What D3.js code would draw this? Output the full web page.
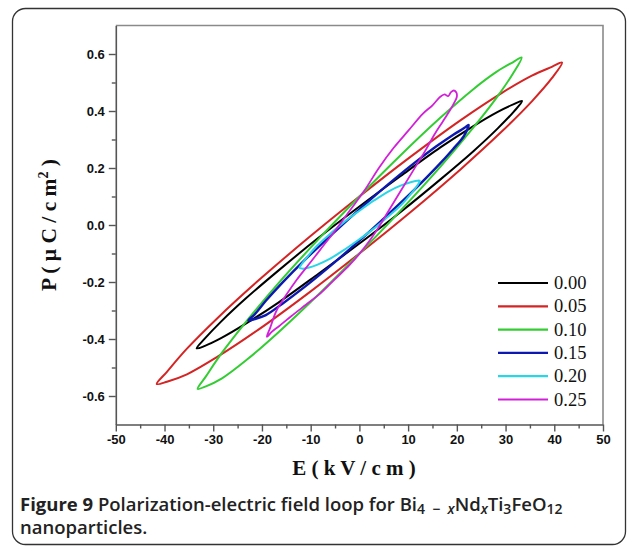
<!DOCTYPE html>
<html><head><meta charset="utf-8">
<script src="https://cdn.jsdelivr.net/npm/d3@7"></script>
<style>body{margin:0;background:#fff}svg{display:block}</style>
</head><body>
<svg id="chart" width="634" height="553"></svg>
<script>
// ---- data ----
const xTicks = [-50,-40,-30,-20,-10,0,10,20,30,40,50];
const yTicks = [-0.6,-0.4,-0.2,0.0,0.2,0.4,0.6];
const seriesLabels = ["0.00","0.05","0.10","0.15","0.20","0.25"];
const seriesColors = ["#000000","#d42424","#33cc33","#0c18b0","#2ad6e6","#d21fd8"];

// each loop: [E (kV/cm), P (uC/cm2)] going round the loop
const loop000 = [[-33.4,-0.433],[-31.7,-0.398],[-28.4,-0.339],[-23.4,-0.259],[-16.7,-0.161],[-8.4,-0.045],[0,0.065],[8.4,0.171],[16.7,0.273],[23.4,0.347],[28.4,0.397],[31.7,0.424],[33.4,0.435],
                 [31.7,0.398],[28.4,0.339],[23.4,0.259],[16.7,0.161],[8.4,0.045],[0,-0.065],[-8.4,-0.171],[-16.7,-0.273],[-23.4,-0.347],[-28.4,-0.397],[-31.7,-0.424]];
const loop005 = [[-41.6,-0.558],[-39.5,-0.515],[-35.4,-0.434],[-29.1,-0.326],[-20.8,-0.196],[-10.4,-0.044],[0,0.100],[10.4,0.238],[20.8,0.368],[29.1,0.462],[35.4,0.524],[39.5,0.555],[41.6,0.570],
                 [39.5,0.515],[35.4,0.434],[29.1,0.326],[20.8,0.196],[10.4,0.044],[0,-0.100],[-10.4,-0.238],[-20.8,-0.368],[-29.1,-0.462],[-35.4,-0.524],[-39.5,-0.550]];
const loop010 = [[-33.2,-0.575],[-31.5,-0.531],[-28.2,-0.448],[-23.2,-0.338],[-16.6,-0.204],[-8.3,-0.048],[0,0.100],[8.3,0.242],[16.6,0.376],[23.2,0.474],[28.2,0.538],[31.5,0.571],[33.3,0.588],
                 [31.5,0.531],[28.2,0.448],[23.2,0.338],[16.6,0.204],[8.3,0.048],[0,-0.100],[-8.3,-0.242],[-16.6,-0.376],[-23.2,-0.474],[-28.2,-0.538],[-31.5,-0.566]];
const loop015 = [[-22.8,-0.335],[-21.5,-0.314],[-19.2,-0.266],[-15.8,-0.202],[-11.3,-0.124],[-5.65,-0.033],[0,0.055],[5.65,0.139],[11.3,0.218],[15.8,0.276],[19.2,0.316],[21.5,0.340],[22.4,0.351],
                 [21.5,0.314],[19.2,0.266],[15.8,0.202],[11.3,0.124],[5.65,0.033],[0,-0.055],[-5.65,-0.139],[-11.3,-0.218],[-15.8,-0.276],[-19.2,-0.316],[-21.5,-0.330]];
const loop020 = [[-12.3,-0.150],[-11.8,-0.136],[-10.5,-0.108],[-8.7,-0.073],[-6.2,-0.034],[-3.1,0.011],[0,0.050],[3.1,0.087],[6.2,0.120],[8.7,0.140],[10.5,0.150],[11.8,0.155],[12.4,0.155],
                 [11.8,0.136],[10.5,0.108],[8.7,0.073],[6.2,0.034],[3.1,-0.011],[0,-0.050],[-3.1,-0.087],[-6.2,-0.120],[-8.7,-0.140],[-10.5,-0.150],[-11.8,-0.153]];
const loop025 = [[-19.0,-0.392],[-18.3,-0.360],[-17.0,-0.300],[-15.0,-0.245],[-12.9,-0.193],[-10.0,-0.130],[-8.1,-0.088],[-5.0,-0.020],[-2.0,0.050],[1.0,0.120],[4.0,0.200],[7.0,0.270],[10.0,0.330],[13.0,0.390],[15.0,0.420],[16.6,0.450],[17.5,0.458],[18.2,0.452],[18.8,0.466],[19.4,0.472],[19.9,0.465],
                 [20.0,0.450],[19.5,0.430],[18.5,0.400],[17.0,0.360],[15.5,0.320],[13.5,0.260],[11.0,0.190],[8.5,0.120],[6.0,0.050],[3.5,-0.020],[1.0,-0.080],[-2.0,-0.140],[-5.0,-0.190],[-8.0,-0.240],[-11.0,-0.280],[-14.0,-0.320],[-16.5,-0.355],[-18.0,-0.375],[-18.8,-0.390]];
const loops = [loop000, loop005, loop010, loop015, loop020, loop025];
const strokeWidths = [2, 2, 2, 2.4, 2, 1.8];

// ---- layout ----
const svg = d3.select("#chart");
const x = d3.scaleLinear().domain([-50,50]).range([115.8,603]);
const y = d3.scaleLinear().domain([-0.7,0.7]).range([424.5,25.5]);
const hyph = f => d => f(d).replace("\u2212","-");

// outer rounded frame
svg.append("rect").attr("x",12.5).attr("y",8.5).attr("width",613).attr("height",536)
  .attr("rx",13).attr("fill","none").attr("stroke","#333").attr("stroke-width",1.3);

// plot box (top & right)
svg.append("path").attr("d",`M${x(-50)},${y(0.7)}H${x(50)}V${y(-0.7)}`)
  .attr("fill","none").attr("stroke","#8a8a8a").attr("stroke-width",1.6);

const tickFont = "'Liberation Sans', Arial, sans-serif";
// x axis
const xMinor = d3.range(-45,50,10);
const gx = svg.append("g").attr("transform",`translate(0,${y(-0.7)})`)
  .call(d3.axisBottom(x).tickValues(xTicks).tickSize(7).tickSizeOuter(0).tickPadding(3).tickFormat(hyph(d3.format("d"))));
gx.selectAll("text").attr("font-family",tickFont).attr("font-weight","bold").attr("font-size",13).attr("fill","#111");
gx.select(".domain").attr("stroke","#555").attr("stroke-width",1.6);
gx.selectAll(".tick line").attr("stroke","#555").attr("stroke-width",1.4);
svg.append("g").attr("transform",`translate(0,${y(-0.7)})`)
  .call(d3.axisBottom(x).tickValues(xMinor).tickSize(4).tickFormat(""))
  .call(g=>{g.select(".domain").remove(); g.selectAll("line").attr("stroke","#555").attr("stroke-width",1.4);});

// y axis
const yMinor = d3.range(-0.5,0.6,0.2);
const gy = svg.append("g").attr("transform",`translate(${x(-50)},0)`)
  .call(d3.axisLeft(y).tickValues(yTicks).tickSize(7).tickSizeOuter(0).tickPadding(4).tickFormat(hyph(d3.format(".1f"))));
gy.selectAll("text").attr("font-family",tickFont).attr("font-weight","bold").attr("font-size",13).attr("fill","#111");
gy.select(".domain").attr("stroke","#555").attr("stroke-width",1.6);
gy.selectAll(".tick line").attr("stroke","#555").attr("stroke-width",1.4);
svg.append("g").attr("transform",`translate(${x(-50)},0)`)
  .call(d3.axisLeft(y).tickValues(yMinor).tickSize(4).tickFormat(""))
  .call(g=>{g.select(".domain").remove(); g.selectAll("line").attr("stroke","#555").attr("stroke-width",1.4);});

// loops
const line = d3.line().x(d=>x(d[0])).y(d=>y(d[1])).curve(d3.curveCatmullRomClosed.alpha(0.5));
loops.forEach((L,i)=>{
  svg.append("path").attr("d",line(L)).attr("fill","none")
    .attr("stroke",seriesColors[i]).attr("stroke-width",strokeWidths[i]).attr("stroke-linejoin","round");
});

// legend
const serif = "'Liberation Serif','Times New Roman',serif";
seriesLabels.forEach((lab,i)=>{
  const cy = 283 + i*23.3;
  svg.append("line").attr("x1",498).attr("x2",548).attr("y1",cy).attr("y2",cy)
    .attr("stroke",seriesColors[i]).attr("stroke-width",2.2);
  svg.append("text").attr("x",554).attr("y",cy+6).attr("font-family",serif).attr("font-size",18.5)
    .attr("fill","#111").text(lab);
});

// axis titles
svg.append("text").attr("x",354).attr("y",475).attr("text-anchor","middle")
  .attr("font-family",serif).attr("font-weight","bold").attr("font-size",21).attr("fill","#111")
  .text("E ( k V / c m )");
const yt = svg.append("text").attr("transform","translate(56,225) rotate(-90)").attr("text-anchor","middle")
  .attr("font-family",serif).attr("font-weight","bold").attr("font-size",21.5).attr("fill","#111");
yt.append("tspan").text("P ( μ C / c m");
yt.append("tspan").attr("dy",-8).attr("font-size",14).text("2");
yt.append("tspan").attr("dy",8).text(" )");

// caption
const capFont = "'Open Sans','Noto Sans',sans-serif";
const cs = 18.5, ss = 14;
const cap = svg.append("text").attr("x",20).attr("y",511).attr("font-family",capFont).attr("font-size",cs).attr("fill","#222");
cap.append("tspan").attr("font-weight","bold").text("Figure 9 ");
cap.append("tspan").attr("font-weight",600).text("Polarization-electric field loop for Bi");
cap.append("tspan").attr("font-weight",600).attr("font-size",ss).attr("dy",3).text("4 ");
cap.append("tspan").attr("font-weight",600).attr("font-size",ss).text("\u00a0−\u00a0 ");
cap.append("tspan").attr("font-weight",600).attr("font-size",ss).attr("font-style","italic").text("x");
cap.append("tspan").attr("font-weight",600).attr("dy",-3).text("Nd");
cap.append("tspan").attr("font-weight",600).attr("font-size",ss).attr("font-style","italic").attr("dy",3).text("x");
cap.append("tspan").attr("font-weight",600).attr("dy",-3).text("Ti");
cap.append("tspan").attr("font-weight",600).attr("font-size",ss).attr("dy",3).text("3");
cap.append("tspan").attr("font-weight",600).attr("dy",-3).text("FeO");
cap.append("tspan").attr("font-weight",600).attr("font-size",ss).attr("dy",3).text("12");
svg.append("text").attr("x",20).attr("y",534).attr("font-family",capFont).attr("font-size",cs).attr("fill","#222")
  .attr("font-weight",600).text("nanoparticles.");
</script>
</body></html>
